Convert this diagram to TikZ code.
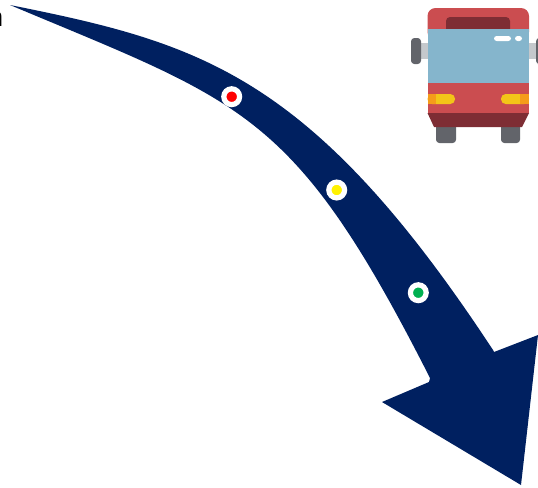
\documentclass[tikz,border=0pt]{standalone}
\usepackage{fontspec}
\setmainfont{Liberation Sans}
\usepackage{tikz}
\usetikzlibrary{positioning}
\definecolor{arrownavy}{RGB}{0,32,96}
\definecolor{stopgreen}{RGB}{0,176,80}
\definecolor{busred}{RGB}{203,77,80}
\definecolor{busdark}{RGB}{126,45,52}
\definecolor{busglass}{RGB}{133,181,204}
\definecolor{busgrey}{RGB}{98,100,106}
\definecolor{busmirror}{RGB}{196,200,204}
\definecolor{busamber}{RGB}{243,197,24}
\definecolor{busorange}{RGB}{245,156,26}
\begin{document}
\begin{tikzpicture}[
	x=0.75pt, y=-0.75pt,
	stopdot/.style={circle, draw=white, line width=3.9pt, minimum size=11.85pt, inner sep=0pt},
	cutlabel/.style={font=\fontsize{20}{24}\selectfont, text=black, inner sep=0pt}
	]
	\useasboundingbox (0,0) rectangle (538,487);
	
	% big curved arrow
	\fill[arrownavy] (10,5) .. controls (199,43) and (311,73) .. (493,350)
	-- (494,352) -- (538,335) -- (521,485) -- (382,402) -- (429,382) -- (430,378)
	.. controls (294,110) and (244.7,103.6) .. (10,5) -- cycle;
	
	% stops
	\node[stopdot, fill=red] (stopred) at (231.7,96.7) {};
	\node[stopdot, fill=yellow] (stopyellow) at (336.7,190) {};
	\node[stopdot, fill=stopgreen] (stopgo) at (418.3,292.7) {};
	
	\node[cutlabel, anchor=base east] (cuttext) at (3.5,26) {n};
	
	% bus
	\fill[busmirror] (418,43) rectangle (428,59);
	\fill[busmirror] (529,43) rectangle (538,59);
	\fill[busgrey, rounded corners=2.5pt] (411,38) rectangle (421,64);
	\fill[busgrey, rounded corners=2.5pt] (536,38) rectangle (541,64);
	\fill[busgrey, rounded corners=2.5pt] (436,120) rectangle (456,143);
	\fill[busgrey, rounded corners=2.5pt] (501,120) rectangle (520,143);
	\fill[busred, rounded corners=6pt] (427.5,8) -- (529,8) -- (529,40) -- (427.5,40) -- cycle;
	\fill[busdark, rounded corners=3pt] (446,17) -- (510,17) -- (510,35) -- (446,35) -- cycle;
	\fill[busglass] (427.5,29) rectangle (529,83);
	\fill[busred] (427.5,83) rectangle (529,113);
	\fill[busdark] (427.5,113) -- (529,113) -- (522,127) -- (434,127) -- cycle;
	\fill[white, rounded corners=2pt] (494,36) rectangle (511,41);
	\fill[white, rounded corners=2pt] (515,36) rectangle (522,41);
	\fill[busamber, rounded corners=3.5pt] (427.5,94) rectangle (455,104);
	\fill[busorange] (427.5,94) rectangle (436,104);
	\fill[busamber, rounded corners=3.5pt] (501,94) rectangle (529,104);
	\fill[busorange] (520,94) rectangle (529,104);
\end{tikzpicture}
\end{document}
